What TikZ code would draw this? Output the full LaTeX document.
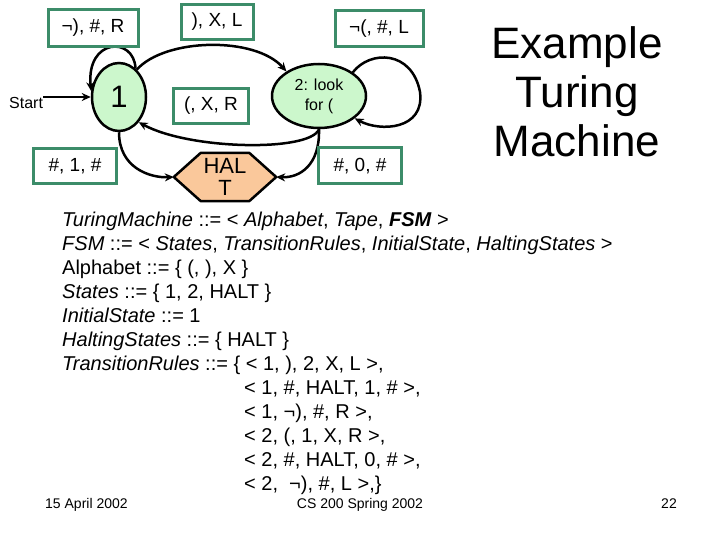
\documentclass[tikz,border=0pt]{standalone}
\usepackage{fontspec}
\setmainfont{Liberation Sans}
\usetikzlibrary{arrows.meta,backgrounds,shapes.geometric}
\definecolor{boxgreen}{RGB}{60,140,105}
\definecolor{statefill}{RGB}{204,247,204}
\definecolor{haltfill}{RGB}{250,200,155}
\begin{document}
\begin{tikzpicture}[x=1pt,y=-1pt,
  lbl/.style={draw=boxgreen, line width=3pt, fill=white, font=\fontsize{19}{22}\selectfont, inner sep=0pt},
  state/.style={ellipse, draw, line width=2.5pt, fill=statefill, inner sep=0pt},
  edge/.style={line width=2.5pt, -{Stealth[length=9pt,width=8pt]}},
  rule/.style={anchor=base west, inner sep=0pt, font=\fontsize{20}{24}\selectfont},
  foot/.style={anchor=base, inner sep=0pt, font=\fontsize{14}{14}\selectfont}
]
\useasboundingbox (0,0) rectangle (720,540);

% states
\node[state, minimum width=54pt, minimum height=68pt, font=\fontsize{31}{31}\selectfont] (s1) at (119,97) {1};
\node[state, minimum width=94pt, minimum height=64pt, align=center, font=\fontsize{16}{20}\selectfont] (s2) at (319,96) {2: look\\for (};
\node[inner sep=0pt, minimum width=102pt, minimum height=48pt, align=center, font=\fontsize{22}{22}\selectfont] (halt) at (225,177) {HAL\\T};
\begin{scope}[on background layer]
\filldraw[fill=haltfill, line width=2.5pt, line join=round] (halt.west) -- ([xshift=27pt]halt.north west) -- ([xshift=-27pt]halt.north east) -- (halt.east) -- ([xshift=-27pt]halt.south east) -- ([xshift=27pt]halt.south west) -- cycle;
\end{scope}

% start
\node[font=\fontsize{16}{16}\selectfont, anchor=west, inner sep=0pt] (start) at (9,103) {Start};
\coordinate (st) at (start.east |- s1.west);
\draw[edge] (st) -- (s1.west);

% transitions
\draw[edge] (s1.60) .. controls (134,36) and (86,38) .. (s1.168);
\draw[edge] (s1.57) .. controls (165,38) and (255,36) .. (s2.143);
\draw[edge] (s2.south) .. controls (310,152) and (190,150) .. (s1.-52);
\draw[edge] (s1.south) .. controls (119,168) and (150,178) .. (halt.west);
\draw[edge] (s2.south) .. controls (320,165) and (300,178) .. (halt.east);
\draw[edge] (s2.35) .. controls (370,50) and (412,50) .. (420,92) .. controls (425,130) and (380,132) .. (s2.-32);

% labels
\node[lbl, minimum width=90pt, minimum height=37pt] (l1) at (93,28) {¬), \#, R};
\node[lbl, minimum width=72pt, minimum height=35pt] (l2) at (217,22) {), X, L};
\node[lbl, minimum width=88pt, minimum height=36pt] (l3) at (379,29) {¬(, \#, L};
\node[lbl, minimum width=75pt, minimum height=35pt] (l4) at (211,106) {(, X, R};
\node[lbl, minimum width=83pt, minimum height=35pt] (l5) at (75,166) {\#, 1, \#};
\node[lbl, minimum width=83pt, minimum height=36pt] (l6) at (360,166) {\#, 0, \#};

% title
\node[align=center, font=\fontsize{44}{49}\selectfont] (title) at (577,92) {Example\\Turing\\Machine};

% rules
\node[rule] (r1) at (62,226) {\textit{TuringMachine} ::= < \textit{Alphabet}, \textit{Tape}, \textbf{\textit{FSM}} >};
\node[rule] (r2) at (62,250) {\textit{FSM} ::= < \textit{States}, \textit{TransitionRules}, \textit{InitialState}, \textit{HaltingStates} >};
\node[rule] (r3) at (62,274) {Alphabet ::= \{ (, ), X \}};
\node[rule] (r4) at (62,298) {\textit{States} ::= \{ 1, 2, HALT \}};
\node[rule] (r5) at (62,322) {\textit{InitialState} ::= 1};
\node[rule] (r6) at (62,346) {\textit{HaltingStates} ::= \{ HALT \}};
\node[rule] (r7) at (62,370) {\textit{TransitionRules} ::= \{ < 1, ), 2, X, L >,};
\node[rule] (r8) at (244,394) {< 1, \#, HALT, 1, \# >,};
\node[rule] (r9) at (244,418) {< 1, ¬), \#, R >,};
\node[rule] (r10) at (244,442) {< 2, (, 1, X, R >,};
\node[rule] (r11) at (244,466) {< 2, \#, HALT, 0, \# >,};
\node[rule] (r12) at (244,490) {< 2, \ ¬), \#, L >,\}};

% footer
\node[foot, anchor=base west] (date) at (45,508) {15 April 2002};
\node[foot] (course) at (360,508) {CS 200 Spring 2002};
\node[foot, anchor=base east] (page) at (677,508) {22};
\end{tikzpicture}
\end{document}
